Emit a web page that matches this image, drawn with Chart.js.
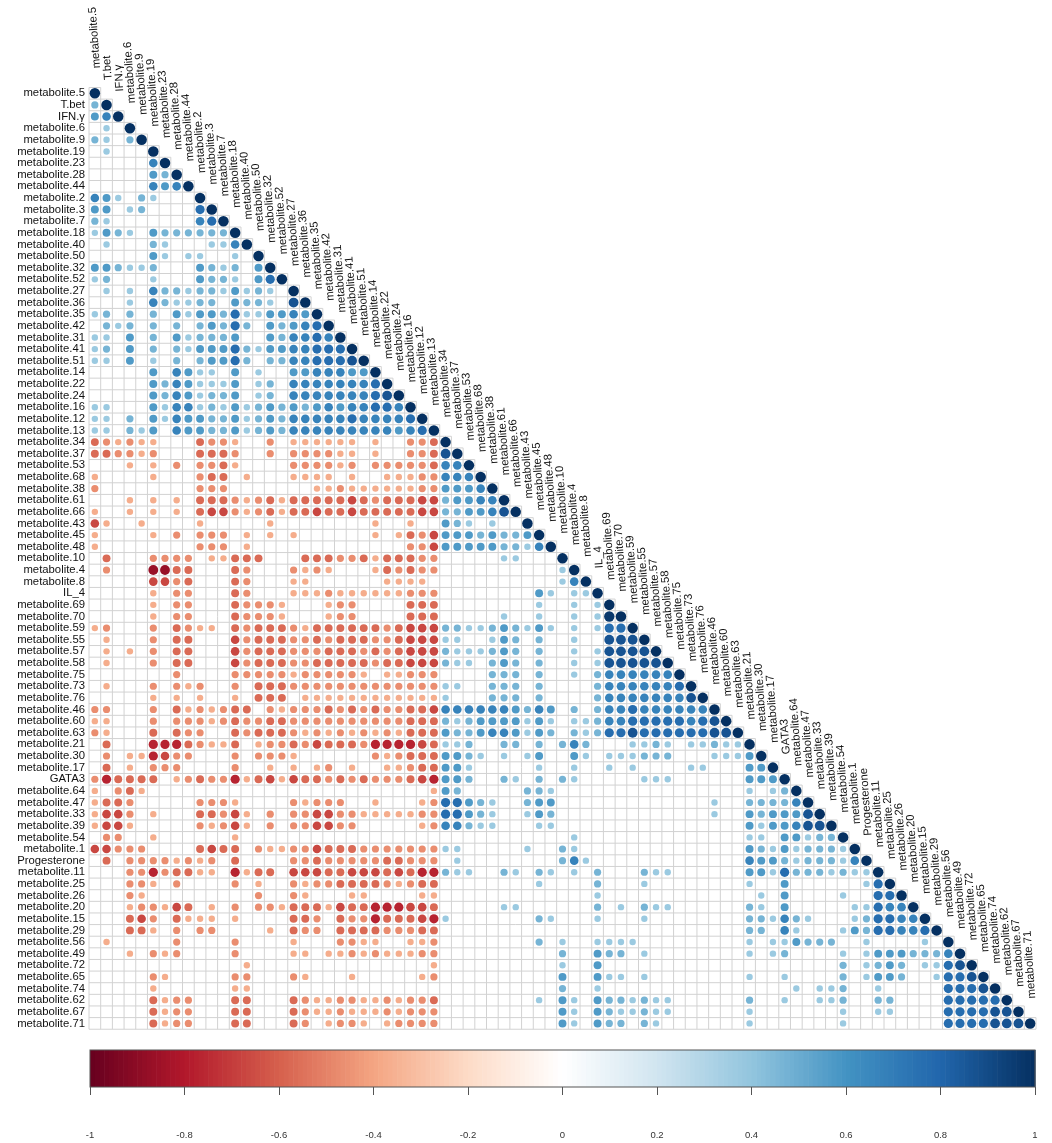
<!DOCTYPE html>
<html>
<head>
<meta charset="utf-8">
<script src="https://cdn.jsdelivr.net/npm/chart.js@4.4.0/dist/chart.umd.min.js"></script>
<style>
html, body { margin: 0; padding: 0; background: #fff; }
canvas { display: block; }
</style>
</head>
<body>
<canvas id="matriz" width="1052" height="1040"></canvas>
<canvas id="barra" width="1052" height="103"></canvas>
<script>
// VARIABLES (mismo orden en filas y columnas)
const variables = ["metabolite.5","T.bet","IFN.γ","metabolite.6","metabolite.9","metabolite.19","metabolite.23","metabolite.28","metabolite.44","metabolite.2","metabolite.3","metabolite.7","metabolite.18","metabolite.40","metabolite.50","metabolite.32","metabolite.52","metabolite.27","metabolite.36","metabolite.35","metabolite.42","metabolite.31","metabolite.41","metabolite.51","metabolite.14","metabolite.22","metabolite.24","metabolite.16","metabolite.12","metabolite.13","metabolite.34","metabolite.37","metabolite.53","metabolite.68","metabolite.38","metabolite.61","metabolite.66","metabolite.43","metabolite.45","metabolite.48","metabolite.10","metabolite.4","metabolite.8","IL_4","metabolite.69","metabolite.70","metabolite.59","metabolite.55","metabolite.57","metabolite.58","metabolite.75","metabolite.73","metabolite.76","metabolite.46","metabolite.60","metabolite.63","metabolite.21","metabolite.30","metabolite.17","GATA3","metabolite.64","metabolite.47","metabolite.33","metabolite.39","metabolite.54","metabolite.1","Progesterone","metabolite.11","metabolite.25","metabolite.26","metabolite.20","metabolite.15","metabolite.29","metabolite.56","metabolite.49","metabolite.72","metabolite.65","metabolite.74","metabolite.62","metabolite.67","metabolite.71"];

// CORRELACIONES (triangulo inferior, una cadena por fila)
// '1'..'9' = +0.1..+0.9, 'a'..'i' = -0.1..-0.9, '.' = vacio, 'X' = diagonal
const filas = [
"X",
"4X",
"56X",
".3.X",
"43.4X",
".3...X",
".....6X",
".....54X",
".....656X",
"653.43...X",
"55.34....7 X",
"43.......6 7X",
"3543.54444 44X",
".3...43... 336X",
".....53.33 ..3.X",
"554334...5 434.5X",
"34...3...5 443.57X",
".3.3.64434 435343.X",
"...3.64334 4.5443.8X",
"34.4.4.535 547335565X",
".434.4.4.4 5474.54567 X",
"33.5.4.534 445..54667 6X",
"34.5.4.435 5574355667 77X",
"33.5.3.4.4 5574.44667 778X",
".....5.653 3.5.3..556 6655X",
".....54653 335.34.666 66667X",
".....54653 445.34.666 666678X",
"33...53663 4353454545 6566776X",
"33.4.53655 4453454666 66766667X",
"33.435.655 4453454666 666666567X",
"edcdcc...e ddc..d.ccc ccc.c..dde X",
"eeddcd...e eed..d.ddd dcc.c..dde 8X",
"...c.c.d.d dec....ddd dcd.ddddde 66X",
"c....c...d ee.c...ccc c.c..cccdd 666X",
"d........d dd.......c cdccccccdd 5556X",
"...c.c.c.e eedcdeceee eefedeeeff 45566X",
"c..c.c.c.e ffdcdeceef eefeeeeeff 445568X",
"fc..c....c .....c.... ....c..c.. 543.3..X",
"c....c.d.d dd.c.c.c.. ....c.cedf 55545445X",
"c........d dd.c...... .......ddf 555554436X",
".e...dddd. cceee...ee eddeceeedd .....33... X",
".d...hhee. ..ed...dcd c...cededd .......... 3X",
".....ffde. ..ed...cc. .....cccc. .......... 36X",
".....c.dd. ..ed...ccc dccccccddd ........53 .33X",
".....c.dd. ..edddc... cdd....eee ........3. .3.3X",
".....c.dd. ..edddc... cdd....eee .....3..3. .3.39X",
"cd...d.edc c.edeeedce eeeeedefff 4433454353 .3.377X",
".c...d.ee. ..fdeeedde deeeddefff 33..354.4. .3..888X",
".c.c.d.ee. ..fdeeeddd eeededefff 4333454.4. .3.38888X",
".c...d.ee. ..fdeeedde eeeedeefff 433.454.4. .3.388888X",
".......d.. ..dddddcdd dddc.ccddd ....444.4. .3.4666666 X",
".c...d.dcd ..d.eeeddd dddddddddd 33..444.4. ...4666666 7X",
".....c.c.c ..c.eee.cc cccccccccc 3...444.4. ...4666666 68X",
"dd...d.ecd cdee.dcddd edededdeef 6666665465 .4.4667666 666X",
"cc...d.ddd cdeddeeddd dddddddeee 4345555353 .334667777 7678X",
"dc...e.edd ..edeeedcd cdcdcdceee 5445665354 .434778777 77788X",
".e...ggged cce.cddedf eeedggggfe 334..44.4. 464...3343 .33433X",
".d.ccgfdd. ..d.dddc.. ....dcdeee 5543.3.35. .53.333444 ...3335X",
".e.c.ddd.. ..d..c.c.c d.c..ccdee 553.....3. .3..3.3... .33...55X",
"dgeeee.cde ddgcefcfee dededddefg 554..43.4. 43.....333 ......555X",
"c.dec..... .......... .........c 54.....443 .......... ......3.34 X",
"ceed.....d ddc....dcd dd..c...cd 77543..455 .......... ...3..4444 6X",
"cffd.c...e edfc.d.ddf fddcccccdd 77543..354 .......... ...3..5455 58X",
"cffc.....d cdfc.d.ddf fdd.....cd 66433...33 .......... ......5355 688X",
".dd..c.... ..c....... .......... .......... .3........ ......33.5 5344X",
"ffddd....e fee.dccddf eeeddddddd 33.....3.. 43........ ......5435 34443X",
".e.ddddcdc d.e....dde dddddeeddd .3........ 463....... ......6554 344436X",
"...ddgdeec c.gcee.fff eefffefegg 433..43.43 .3.4...433 ......5537 4443433X",
"...ddc.d.. ..d.c..dcd deeeedcdee ........3. ...4...3.. ......3..5 ......37X",
"...dc..... ....d..dc. ..cc....cc .......... ...3...... .......3.5 ....3..77X",
"...cddcfe. c.d.ddceee cfeegggffe .....33... ...4.3.433 ......43.5 .....33766X",
"...efd.ecc c.c....eed .eddgeeefg 3.......43 ...3...3.. ......4436 43...347766X",
"...eec.d.d d....c.edd .eeeedddee .......... .......... ......44.6 3...35477667X",
".c.....d.. ..d....c.. .ddcc..ccd ........4. 3..3333... ......3.33 5444..3....3.X",
"...c.dcd.. ..d....cc. ccdcdcccdd .......... 4..544.3.. ......3.34 ....3.35554446X",
".......... ...c...... .........c .......... 3..5...... .......... ....4.3454.3378X",
".....dc... ..dd...dc. ..c.....cd .......... 5..533.3.. ......3..3 ....4.3554..3778X",
".....c.... ..cc...... .......... .......... 4..3...... .......... 3.334..3.....7778X",
".....ecdd. ..ee...edc cddccdcdde ........3. 53.5443433 ......4..3 ..334..44....77777X",
".....ecdd. ..ee...edc cdcccdcddd .......... 53.5433433 ......3... ....3..33....777788X",
".....ecdd. ..ee...ed. cddc.cdddd .......... 53.544.43. ......3... ....3........7777888X"
];

// ESCALA DE COLOR (RdBu) Y MARCAS DE LA BARRA
const paleta = ["#67001F","#B2182B","#D6604D","#F4A582","#FDDBC7","#FFFFFF","#D1E5F0","#92C5DE","#4393C3","#2166AC","#053061"];
const ticksBarra = [-1, -0.8, -0.6, -0.4, -0.2, 0, 0.2, 0.4, 0.6, 0.8, 1];

const fuente = '"Liberation Sans", Arial, sans-serif';

function valorCelda(ch) {
    if (ch === 'X') return 1;
    if (ch >= '1' && ch <= '9') return Number(ch) / 10 + 0.07;
    const k = 'abcdefghi'.indexOf(ch);
    if (k >= 0) return -((k + 1) / 10 + 0.07);
    return null;
}

function hexRgb(h) {
    return [parseInt(h.slice(1, 3), 16), parseInt(h.slice(3, 5), 16), parseInt(h.slice(5, 7), 16)];
}

function colorDe(v) {
    const t = (Math.max(-1, Math.min(1, v)) + 1) / 2 * (paleta.length - 1);
    const k = Math.min(Math.floor(t), paleta.length - 2);
    const f = t - k;
    const a = hexRgb(paleta[k]), b = hexRgb(paleta[k + 1]);
    const c = a.map((q, i) => Math.round(q + (b[i] - q) * f));
    return `rgb(${c[0]},${c[1]},${c[2]})`;
}

// PUNTOS DEL GRAFICO
const puntos = [];
filas.forEach((fila, i) => {
    const celdas = fila.replace(/ /g, '');
    for (let j = 0; j <= i; j++) {
        const v = j === i ? 1 : valorCelda(celdas[j] || '.');
        if (v !== null) puntos.push({ x: j, y: i, v: v });
    }
});

// GRILLA DEL TRIANGULO
const grilla = {
    id: 'grilla',
    beforeDatasetsDraw(chart) {
        const { ctx, scales: { x, y } } = chart;
        const n = variables.length;
        ctx.save();
        ctx.strokeStyle = '#d2d2d2';
        ctx.lineWidth = 1;
        ctx.beginPath();
        for (let r = 0; r <= n; r++) {
            const yy = y.getPixelForValue(r - 0.5);
            ctx.moveTo(x.getPixelForValue(-0.5), yy);
            ctx.lineTo(x.getPixelForValue(Math.min(r, n - 1) + 0.5), yy);
        }
        for (let c = 0; c <= n; c++) {
            const xx = x.getPixelForValue(c - 0.5);
            ctx.moveTo(xx, y.getPixelForValue(Math.max(c - 1, 0) - 0.5));
            ctx.lineTo(xx, y.getPixelForValue(n - 0.5));
        }
        ctx.stroke();
        ctx.restore();
    }
};

// ETIQUETAS DE COLUMNA SOBRE LA DIAGONAL
const etiquetasColumna = {
    id: 'etiquetasColumna',
    afterDraw(chart) {
        const { ctx, scales: { x, y } } = chart;
        ctx.save();
        ctx.font = '11.3px ' + fuente;
        ctx.fillStyle = '#111';
        ctx.textAlign = 'left';
        ctx.textBaseline = 'middle';
        variables.forEach((nombre, j) => {
            ctx.save();
            ctx.translate(x.getPixelForValue(j) + 2, y.getPixelForValue(j) - 25);
            ctx.rotate(-94 * Math.PI / 180);
            ctx.fillText(nombre, 0, 0);
            ctx.restore();
        });
        ctx.restore();
    }
};

new Chart(document.getElementById('matriz'), {
    type: 'scatter',
    data: {
        datasets: [{
            data: puntos,
            pointStyle: 'circle',
            pointBorderWidth: 0,
            pointBackgroundColor: (c) => c.raw ? colorDe(c.raw.v) : '#888',
            pointRadius: (c) => {
                if (!c.raw) return 3;
                const ex = c.chart.scales.x;
                const celda = Math.abs(ex.getPixelForValue(1) - ex.getPixelForValue(0));
                return 0.45 * Math.sqrt(Math.abs(c.raw.v)) * celda;
            }
        }]
    },
    options: {
        responsive: false,
        animation: false,
        devicePixelRatio: 1,
        events: [],
        layout: { autoPadding: false, padding: { top: 87.5, bottom: 9, left: 0, right: 16 } },
        plugins: { legend: { display: false }, tooltip: { enabled: false } },
        scales: {
            x: { type: 'linear', min: -0.5, max: 80.5, display: false },
            y: {
                type: 'linear', reverse: true, min: -0.5, max: 80.5,
                afterBuildTicks: (s) => { s.ticks = variables.map((_, i) => ({ value: i })); },
                afterFit: (s) => { s.width = 89; },
                grid: { display: false, drawTicks: false },
                border: { display: false },
                ticks: {
                    autoSkip: false, padding: 4, color: '#111',
                    font: { family: fuente, size: 11.3 },
                    callback: (v) => variables[v]
                }
            }
        }
    },
    plugins: [grilla, etiquetasColumna]
});

// BARRA DE COLOR
const rellenoBarra = {
    id: 'rellenoBarra',
    beforeDraw(chart) {
        const { ctx, chartArea: a, scales: { x } } = chart;
        const pasos = 200;
        ctx.save();
        for (let k = 0; k < pasos; k++) {
            const v0 = -1 + 2 * k / pasos, v1 = -1 + 2 * (k + 1) / pasos;
            const x0 = x.getPixelForValue(v0), x1 = x.getPixelForValue(v1);
            ctx.fillStyle = colorDe((v0 + v1) / 2);
            ctx.fillRect(x0, a.top, x1 - x0 + 0.6, a.bottom - a.top);
        }
        ctx.strokeStyle = '#555';
        ctx.lineWidth = 1;
        ctx.strokeRect(a.left, a.top, a.right - a.left, a.bottom - a.top);
        ctx.restore();
    }
};

new Chart(document.getElementById('barra'), {
    type: 'scatter',
    data: { datasets: [{ data: [] }] },
    options: {
        responsive: false,
        animation: false,
        devicePixelRatio: 1,
        events: [],
        layout: { autoPadding: false, padding: { top: 10, bottom: 0, left: 90, right: 17 } },
        plugins: { legend: { display: false }, tooltip: { enabled: false } },
        scales: {
            x: {
                type: 'linear', min: -1, max: 1,
                afterBuildTicks: (s) => { s.ticks = ticksBarra.map((v) => ({ value: v })); },
                afterFit: (s) => { s.height = 56; s.paddingLeft = 0; s.paddingRight = 0; },
                grid: { drawOnChartArea: false, drawTicks: true, tickLength: 8, tickColor: '#555' },
                border: { display: false },
                ticks: {
                    autoSkip: false, maxRotation: 0, padding: 35, color: '#333',
                    font: { family: fuente, size: 9.5 },
                    callback: (v) => String(Math.round(v * 10) / 10)
                }
            },
            y: { display: false, min: 0, max: 1 }
        }
    },
    plugins: [rellenoBarra]
});
</script>
</body>
</html>
